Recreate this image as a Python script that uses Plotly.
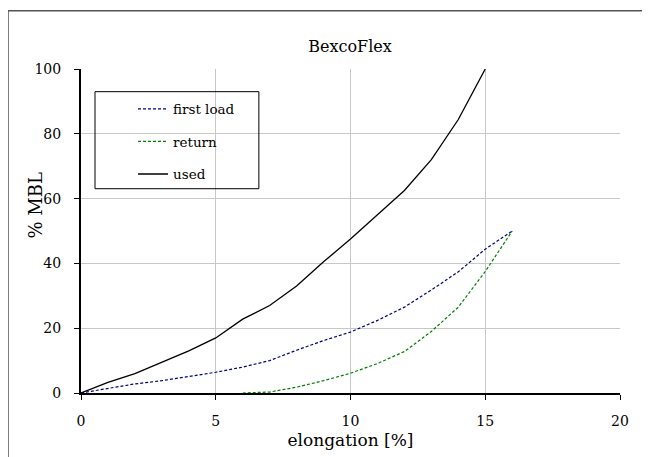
import plotly.graph_objects as go

# Data
x_first = [0, 1, 2, 3, 4, 5, 6, 7, 8, 9, 10, 11, 12, 13, 14, 15, 16]
y_first = [0, 1.5, 2.8, 3.8, 5, 6.4, 8, 10, 13.2, 16.2, 18.8, 22.4, 26.5, 31.8, 37.4, 44.4, 50]

x_return = [6, 7, 8, 9, 10, 11, 12, 13, 14, 15, 16]
y_return = [0, 0.3, 1.8, 3.8, 6.1, 9.1, 12.8, 19, 26.5, 37.5, 50]

x_used = [0, 1, 2, 3, 4, 5, 6, 7, 8, 9, 10, 11, 12, 13, 14, 15]
y_used = [0, 3.3, 6, 9.6, 13, 17, 22.8, 27, 33, 40.5, 47.5, 55, 62.5, 72, 84.4, 100]

x_ticks = [0, 5, 10, 15, 20]
y_ticks = [0, 20, 40, 60, 80, 100]

FONT = "DejaVu Serif"

fig = go.Figure()
fig.add_trace(go.Scatter(x=x_first, y=y_first, mode="lines", name="first load",
                         legendgroup="a",
                         line=dict(color="#000080", width=1.2, dash="3px,2px")))
fig.add_trace(go.Scatter(x=x_return, y=y_return, mode="lines", name="return",
                         legendgroup="b",
                         line=dict(color="#008000", width=1.2, dash="3px,2px")))
fig.add_trace(go.Scatter(x=x_used, y=y_used, mode="lines", name="used",
                         legendgroup="c",
                         line=dict(color="#000000", width=1.3)))

# outer chart border (left and top visible in the reference)
fig.add_shape(type="line", xref="paper", yref="paper",
              x0=-0.1354, x1=-0.1354, y0=1.18, y1=-0.4,
              line=dict(color="#555555", width=1.5))
fig.add_shape(type="line", xref="paper", yref="paper",
              x0=-0.1354, x1=1.3, y0=1.18, y1=1.18,
              line=dict(color="#555555", width=1.5))
# legend frame
fig.add_shape(type="rect", xref="paper", yref="paper",
              x0=0.026, x1=0.330, y0=0.6305, y1=0.930,
              line=dict(color="black", width=1), layer="above")

# y-axis title
fig.add_annotation(text="% MBL", xref="paper", yref="paper",
                   x=-0.0845, y=0.58, xanchor="center", yanchor="middle",
                   textangle=-90, showarrow=False,
                   font=dict(family=FONT, size=18, color="black"))

fig.update_layout(
    width=650, height=457,
    margin=dict(l=73, r=38, t=61, b=72, autoexpand=False),
    paper_bgcolor="white", plot_bgcolor="white",
    font=dict(family=FONT, size=14, color="black"),
    title=dict(text="BexcoFlex", x=(350 - 8) / 650,
               xanchor="center", xref="container",
               y=1 - 38 / 457, yanchor="middle", yref="container",
               font=dict(family=FONT, size=16, color="black")),
    showlegend=True,
    legend=dict(x=0.0965, y=0.924, xanchor="left", yanchor="top",
                borderwidth=0, bgcolor="rgba(0,0,0,0)",
                font=dict(family=FONT, size=13.5, color="black"),
                tracegroupgap=12),
)
fig.update_xaxes(range=[0, 20], tickvals=x_ticks, ticktext=[str(v) for v in x_ticks],
                 tickfont=dict(family=FONT, size=14, color="black"),
                 showgrid=True, gridcolor="#c8c8c8", gridwidth=1,
                 showline=True, linecolor="black", linewidth=2,
                 ticks="outside", ticklen=5, tickcolor="black", tickwidth=1,
                 ticklabelstandoff=9,
                 zeroline=False, automargin=False,
                 title=dict(text="elongation [%]", standoff=6,
                            font=dict(family=FONT, size=17, color="black")))
fig.update_yaxes(range=[0, 100], tickvals=y_ticks, ticktext=[str(v) for v in y_ticks],
                 tickfont=dict(family=FONT, size=14, color="black"),
                 showgrid=True, gridcolor="#c8c8c8", gridwidth=1,
                 showline=True, linecolor="black", linewidth=2,
                 ticks="outside", ticklen=5, tickcolor="black", tickwidth=1,
                 ticklabelstandoff=10,
                 zeroline=False, automargin=False)

fig.write_html("out.html")
